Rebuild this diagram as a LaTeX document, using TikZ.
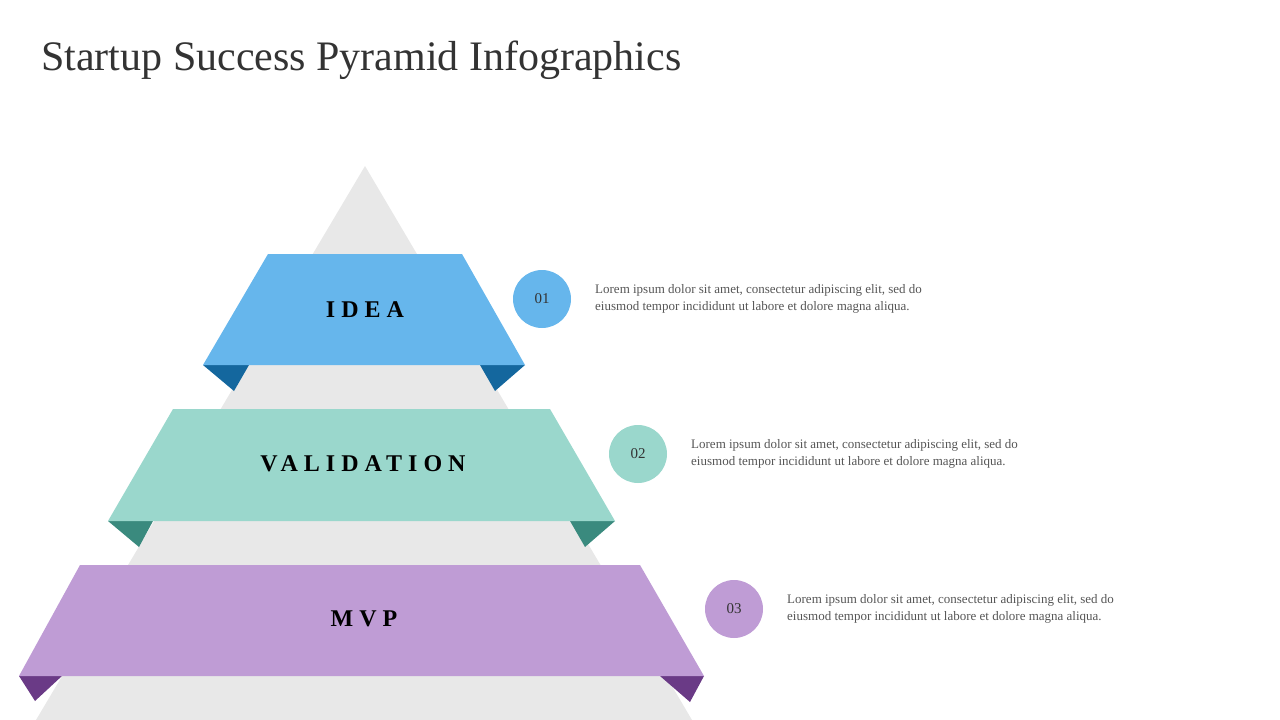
\documentclass[tikz,border=0pt]{standalone}
\usepackage{fontspec}
\setmainfont{Liberation Serif}
\definecolor{bA}{HTML}{66B6EC}\definecolor{bAd}{HTML}{14679E}
\definecolor{bB}{HTML}{9AD7CC}\definecolor{bBd}{HTML}{3A8A7E}
\definecolor{bC}{HTML}{BF9CD5}\definecolor{bCd}{HTML}{6A3A86}
\definecolor{pyr}{HTML}{E8E8E8}\definecolor{ttl}{HTML}{333333}\definecolor{txt}{HTML}{555555}
\tikzset{lbl/.style={font=\fontsize{24}{24}\selectfont\bfseries,text=black},
 num/.style={circle,minimum size=58pt,inner sep=0pt,font=\fontsize{15}{15}\selectfont,text=ttl},
 desc/.style={anchor=north west,align=left,inner sep=0pt,font=\fontsize{13}{17}\selectfont,text=txt}}
\newcommand{\spaced}[1]{\addfontfeatures{LetterSpace=25}#1}
\begin{document}
\begin{tikzpicture}[x=1pt,y=-1pt]
\useasboundingbox (0,0) rectangle (1280,720);
\node[anchor=base west,inner sep=0pt,font=\fontsize{42}{42}\selectfont,text=ttl] (title) at (41,70) {Startup Success Pyramid Infographics};
\fill[pyr] (365,166) -- (692,720) -- (36,720) -- cycle;
% IDEA
\fill[bAd] (203,365) -- (249,365) -- (234,391) -- cycle;
\fill[bAd] (480,365) -- (525,365) -- (495,391) -- cycle;
\fill[bA] (268,254) -- (462,254) -- (525,365) -- (203,365) -- cycle;
\node[lbl] (l1) at (365,310) {\spaced{IDEA}};
% VALIDATION
\fill[bBd] (108,521) -- (153,521) -- (139,547) -- cycle;
\fill[bBd] (570,521) -- (615,521) -- (585,547) -- cycle;
\fill[bB] (173,409) -- (550,409) -- (615,521) -- (108,521) -- cycle;
\node[lbl] (l2) at (363,464) {\spaced{VALIDATION}};
% MVP
\fill[bCd] (19,676) -- (62,676) -- (35,701) -- cycle;
\fill[bCd] (660,676) -- (704,676) -- (690,702) -- cycle;
\fill[bC] (80,565) -- (640,565) -- (704,676) -- (19,676) -- cycle;
\node[lbl] (l3) at (364,619) {\spaced{MVP}};
% circles
\node[num,fill=bA] (c1) at (542,299) {01};
\node[num,fill=bB] (c2) at (638,454) {02};
\node[num,fill=bC] (c3) at (734,609) {03};
\node[desc] (d1) at (595,284) {Lorem ipsum dolor sit amet, consectetur adipiscing elit, sed do\\eiusmod tempor incididunt ut labore et dolore magna aliqua.};
\node[desc] (d2) at (691,439) {Lorem ipsum dolor sit amet, consectetur adipiscing elit, sed do\\eiusmod tempor incididunt ut labore et dolore magna aliqua.};
\node[desc] (d3) at (787,594) {Lorem ipsum dolor sit amet, consectetur adipiscing elit, sed do\\eiusmod tempor incididunt ut labore et dolore magna aliqua.};
\end{tikzpicture}
\end{document}
